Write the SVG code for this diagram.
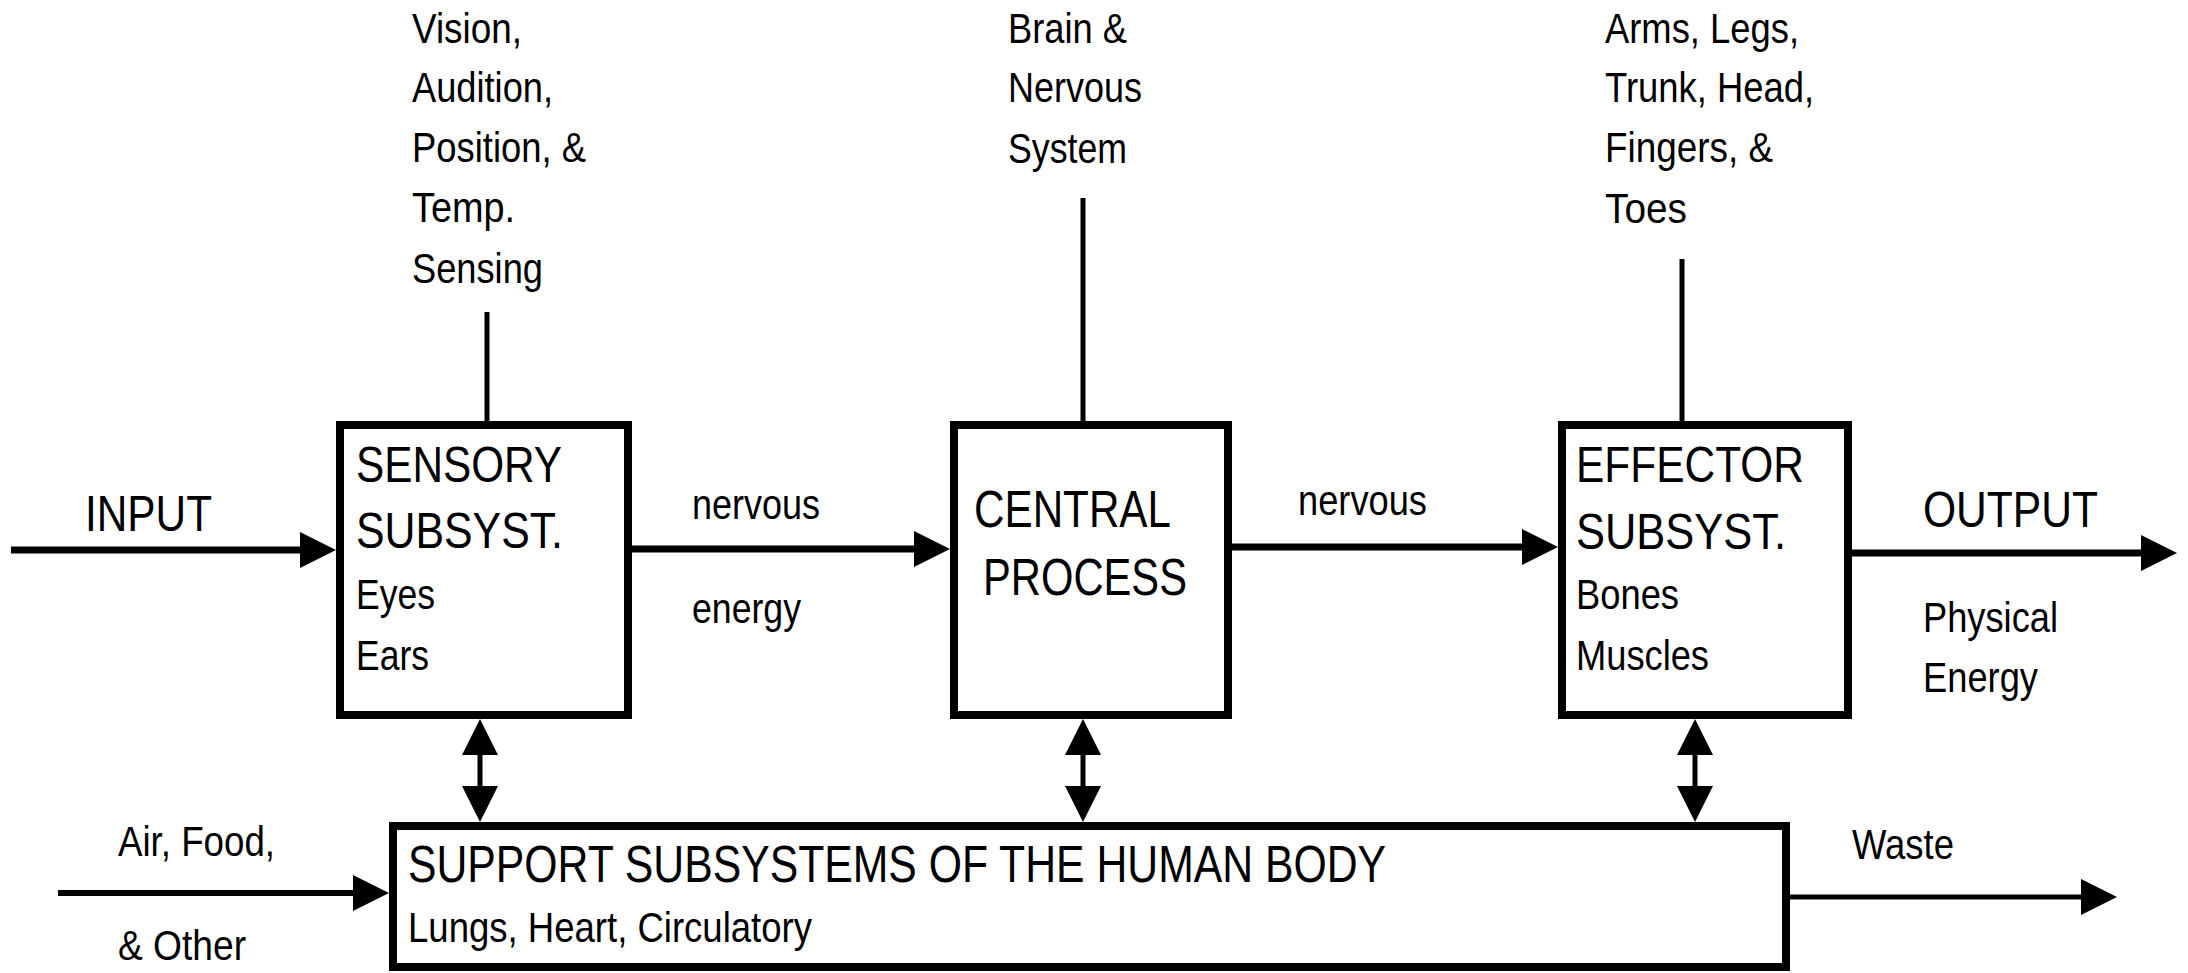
<svg xmlns="http://www.w3.org/2000/svg" width="2188" height="973" viewBox="0 0 2188 973">
<style>
.box{fill:#fff;stroke:#000;stroke-width:8}
.arr{fill:none;stroke:#000;stroke-width:7;marker-end:url(#ah)}
.thin{fill:none;stroke:#000;stroke-width:5}
.dbl{fill:none;stroke:#000;stroke-width:5;marker-start:url(#ah);marker-end:url(#ah)}
text{font-family:"Liberation Sans",Arial,sans-serif;fill:#000}
.big{font-size:50px}
.sm{font-size:43px}
</style>
<defs>
<marker id="ah" markerUnits="userSpaceOnUse" markerWidth="36" markerHeight="36" refX="16" refY="18" orient="auto-start-reverse" viewBox="0 0 36 36">
<path d="M0,0 L36,18 L0,36 z" fill="#000"/>
</marker>
</defs>
<g id="connectors">
<path class="arr" d="M11,550 H316"/>
<path class="arr" d="M632,549 H930"/>
<path class="arr" d="M1232,547 H1538"/>
<path class="arr" d="M1852,553 H2157"/>
<path class="arr" d="M58,893 H369" style="stroke-width:6"/>
<path class="arr" d="M1790,897 H2097" style="stroke-width:5"/>
<path class="thin" d="M487,312 V421"/>
<path class="thin" d="M1083,198 V421"/>
<path class="thin" d="M1682,259 V421"/>
<path class="dbl" d="M480,739 V802"/>
<path class="dbl" d="M1083,739 V802"/>
<path class="dbl" d="M1695,739 V802"/>
</g>
<g id="sensory">
<rect class="box" x="340" y="425" width="288" height="290"/>
<text class="big" x="356" y="482" textLength="206" lengthAdjust="spacingAndGlyphs">SENSORY</text>
<text class="big" x="356" y="548" textLength="207" lengthAdjust="spacingAndGlyphs">SUBSYST.</text>
<text class="sm" x="356" y="609" textLength="79" lengthAdjust="spacingAndGlyphs">Eyes</text>
<text class="sm" x="356" y="670" textLength="73" lengthAdjust="spacingAndGlyphs">Ears</text>
</g>
<g id="central">
<rect class="box" x="954" y="425" width="274" height="290"/>
<text class="big" x="974" y="527" style="font-size:52px" textLength="197" lengthAdjust="spacingAndGlyphs">CENTRAL</text>
<text class="big" x="983" y="595" style="font-size:52px" textLength="204" lengthAdjust="spacingAndGlyphs">PROCESS</text>
</g>
<g id="effector">
<rect class="box" x="1562" y="425" width="286" height="290"/>
<text class="big" x="1576" y="482" textLength="228" lengthAdjust="spacingAndGlyphs">EFFECTOR</text>
<text class="big" x="1576" y="549" textLength="210" lengthAdjust="spacingAndGlyphs">SUBSYST.</text>
<text class="sm" x="1576" y="609" textLength="103" lengthAdjust="spacingAndGlyphs">Bones</text>
<text class="sm" x="1576" y="670" textLength="133" lengthAdjust="spacingAndGlyphs">Muscles</text>
</g>
<g id="support">
<rect class="box" x="393" y="826" width="1393" height="141"/>
<text class="big" x="408" y="882" style="font-size:51px" textLength="978" lengthAdjust="spacingAndGlyphs">SUPPORT SUBSYSTEMS OF THE HUMAN BODY</text>
<text class="sm" x="408" y="942" textLength="404" lengthAdjust="spacingAndGlyphs">Lungs, Heart, Circulatory</text>
</g>
<g id="labels">
<text class="big" x="85" y="531" textLength="127" lengthAdjust="spacingAndGlyphs">INPUT</text>
<text class="big" x="1923" y="527" textLength="175" lengthAdjust="spacingAndGlyphs">OUTPUT</text>
<text class="sm" x="692" y="519" textLength="128" lengthAdjust="spacingAndGlyphs">nervous</text>
<text class="sm" x="692" y="623" textLength="109" lengthAdjust="spacingAndGlyphs">energy</text>
<text class="sm" x="1298" y="515" textLength="129" lengthAdjust="spacingAndGlyphs">nervous</text>
<text class="sm" x="1923" y="632" textLength="135" lengthAdjust="spacingAndGlyphs">Physical</text>
<text class="sm" x="1923" y="692" textLength="115" lengthAdjust="spacingAndGlyphs">Energy</text>
<text class="sm" x="412" y="43" textLength="110" lengthAdjust="spacingAndGlyphs">Vision,</text>
<text class="sm" x="412" y="102" textLength="141" lengthAdjust="spacingAndGlyphs">Audition,</text>
<text class="sm" x="412" y="162" textLength="174" lengthAdjust="spacingAndGlyphs">Position, &amp;</text>
<text class="sm" x="412" y="222" textLength="103" lengthAdjust="spacingAndGlyphs">Temp.</text>
<text class="sm" x="412" y="283" textLength="131" lengthAdjust="spacingAndGlyphs">Sensing</text>
<text class="sm" x="1008" y="43" textLength="119" lengthAdjust="spacingAndGlyphs">Brain &amp;</text>
<text class="sm" x="1008" y="102" textLength="134" lengthAdjust="spacingAndGlyphs">Nervous</text>
<text class="sm" x="1008" y="163" textLength="119" lengthAdjust="spacingAndGlyphs">System</text>
<text class="sm" x="1605" y="43" textLength="194" lengthAdjust="spacingAndGlyphs">Arms, Legs,</text>
<text class="sm" x="1605" y="102" textLength="209" lengthAdjust="spacingAndGlyphs">Trunk, Head,</text>
<text class="sm" x="1605" y="162" textLength="168" lengthAdjust="spacingAndGlyphs">Fingers, &amp;</text>
<text class="sm" x="1605" y="223" textLength="82" lengthAdjust="spacingAndGlyphs">Toes</text>
<text class="sm" x="118" y="856" textLength="157" lengthAdjust="spacingAndGlyphs">Air, Food,</text>
<text class="sm" x="118" y="960" textLength="128" lengthAdjust="spacingAndGlyphs">&amp; Other</text>
<text class="sm" x="1852" y="859" textLength="102" lengthAdjust="spacingAndGlyphs">Waste</text>
</g>
</svg>
